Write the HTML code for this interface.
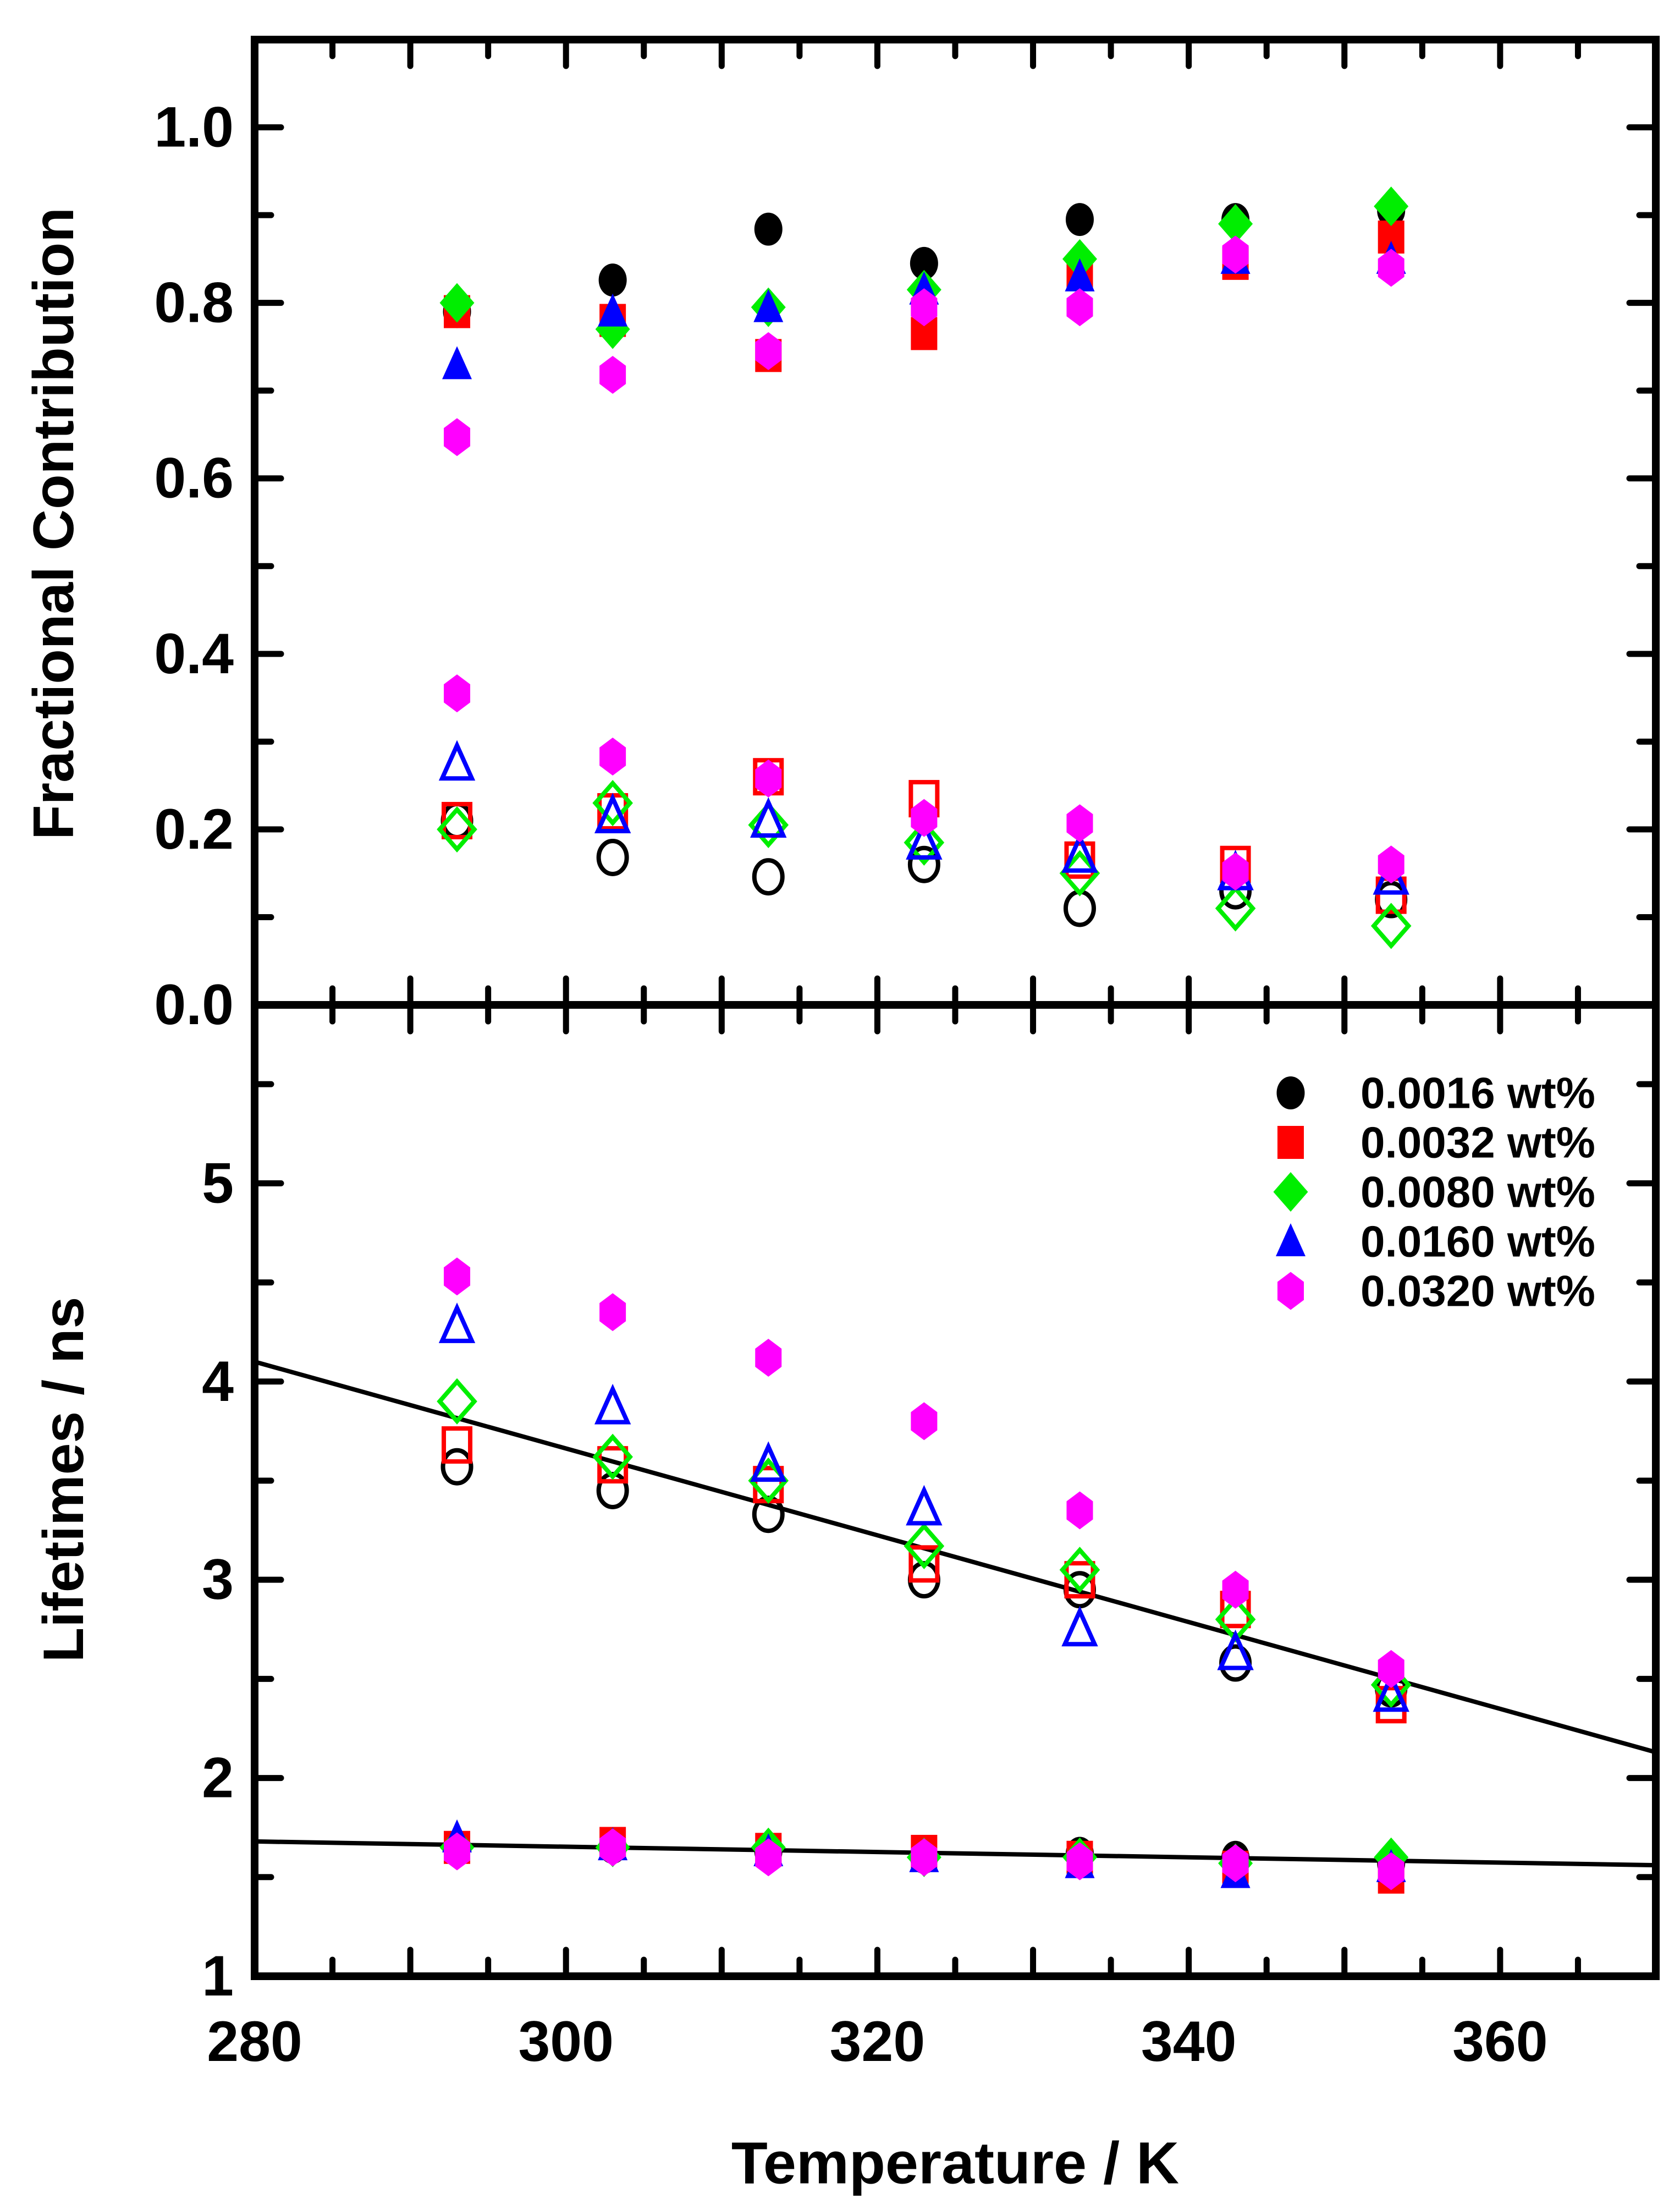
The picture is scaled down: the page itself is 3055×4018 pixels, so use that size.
<!DOCTYPE html>
<html><head><meta charset="utf-8"><style>
html,body{margin:0;padding:0;background:#fff;}
svg{display:block;}
text{font-family:"Liberation Sans",Arial,sans-serif;font-weight:bold;fill:#000;}
</style></head><body>
<svg id="chart" width="3055" height="4018" viewBox="0 0 3055 4018" xmlns="http://www.w3.org/2000/svg">
<rect x="0" y="0" width="3055" height="4018" fill="#fff"/>
<g id="marks"></g>
<g id="axes"></g>
</svg>
<script>
const temps = [293,303,313,323,333,343,353];
const seriesNames = ['0.0016 wt%','0.0032 wt%','0.0080 wt%','0.0160 wt%','0.0320 wt%'];
// Top panel: fractional contributions
const fracLong_0016 = [0.79,0.826,0.884,0.845,0.895,0.895,0.905];
const fracLong_0032 = [0.79,0.78,0.74,0.765,0.835,0.845,0.875];
const fracLong_0080 = [0.80,0.77,0.795,0.815,0.85,0.89,0.91];
const fracLong_0160 = [0.73,0.79,0.795,0.815,0.83,0.85,0.85];
const fracLong_0320 = [0.647,0.718,0.745,0.795,0.795,0.855,0.84];
const fracShort_0016 = [0.21,0.168,0.146,0.16,0.11,0.13,0.12];
const fracShort_0032 = [0.21,0.22,0.26,0.235,0.165,0.16,0.125];
const fracShort_0080 = [0.20,0.23,0.205,0.185,0.15,0.11,0.09];
const fracShort_0160 = [0.275,0.215,0.21,0.185,0.17,0.15,0.145];
const fracShort_0320 = [0.355,0.283,0.258,0.213,0.207,0.152,0.16];
// Bottom panel: lifetimes (ns)
const tauLong_0016 = [3.57,3.45,3.33,3.0,2.95,2.58,2.45];
const tauLong_0032 = [3.68,3.58,3.48,3.08,3.0,2.85,2.37];
const tauLong_0080 = [3.9,3.62,3.5,3.17,3.05,2.8,2.47];
const tauLong_0160 = [4.28,3.87,3.58,3.36,2.75,2.63,2.42];
const tauLong_0320 = [4.53,4.35,4.12,3.8,3.35,2.95,2.55];
const tauShort_0016 = [1.65,1.65,1.63,1.6,1.62,1.6,1.57];
const tauShort_0032 = [1.65,1.67,1.64,1.63,1.6,1.55,1.5];
const tauShort_0080 = [1.65,1.65,1.65,1.6,1.6,1.57,1.6];
const tauShort_0160 = [1.7,1.66,1.63,1.6,1.57,1.52,1.55];
const tauShort_0320 = [1.63,1.65,1.6,1.6,1.58,1.57,1.53];
const fitLongT = [280,370];
const fitLongV = [4.1,2.13];
const fitShortT = [280,370];
const fitShortV = [1.68,1.56];
const xTickLabels = [280,300,320,340,360];
const topTickLabels = ['0.0','0.2','0.4','0.6','0.8','1.0'];
const botTickLabels = ['1','2','3','4','5'];

const NS='http://www.w3.org/2000/svg';
const X0=463, X1=3011, Ytop=72, Ymid=1827, Ybot=3593;
const xS = t => X0 + (t-280)*(X1-X0)/90;
const yTop = v => Ymid - v*(Ymid-Ytop)/1.1;
const yBot = v => Ybot - (v-1)*(Ybot-Ymid)/4.9;
const colors=['#000000','#ff0000','#00ee00','#0000ff','#ff00ff'];
const shapes=['circle','square','diamond','triangle','hexagon'];
const marks=document.getElementById('marks');
const axes=document.getElementById('axes');
function mk(tag,attrs,parent){const e=document.createElementNS(NS,tag);for(const k in attrs)e.setAttribute(k,attrs[k]);parent.appendChild(e);return e;}
function marker(shape,cx,cy,color,filled,parent,name){
  const r=30; let e;
  const st = filled?{fill:color,stroke:'none'}:{fill:'none',stroke:color,'stroke-width':8};
  if(shape==='circle'){ e=mk('ellipse',Object.assign({cx:cx,cy:cy,rx:r*0.85,ry:r},st),parent); }
  else if(shape==='square'){ e=mk('rect',Object.assign({x:cx-r*0.8,y:cy-r,width:r*1.6,height:r*2},st),parent); }
  else { let pts;
    if(shape==='diamond') pts=[[0,-r*1.2],[r*1.05,0],[0,r*1.2],[-r*1.05,0]];
    else if(shape==='triangle') pts=[[0,-r*1.1],[r*0.9,r*0.9],[-r*0.9,r*0.9]];
    else pts=[[0,-r*1.15],[r*0.8,-r*0.55],[r*0.8,r*0.55],[0,r*1.15],[-r*0.8,r*0.55],[-r*0.8,-r*0.55]];
    e=mk('polygon',Object.assign({points:pts.map(p=>(cx+p[0])+','+(cy+p[1])).join(' ')},st),parent); }
  
  
  return e;
}
const l1=mk('line',{x1:xS(fitLongT[0]),y1:yBot(fitLongV[0]),x2:xS(fitLongT[1]),y2:yBot(fitLongV[1]),stroke:'#000','stroke-width':8},marks);


const l2=mk('line',{x1:xS(fitShortT[0]),y1:yBot(fitShortV[0]),x2:xS(fitShortT[1]),y2:yBot(fitShortV[1]),stroke:'#000','stroke-width':8},marks);



const fracLong=[fracLong_0016,fracLong_0032,fracLong_0080,fracLong_0160,fracLong_0320];
const fracShort=[fracShort_0016,fracShort_0032,fracShort_0080,fracShort_0160,fracShort_0320];
const tauLong=[tauLong_0016,tauLong_0032,tauLong_0080,tauLong_0160,tauLong_0320];
const tauShort=[tauShort_0016,tauShort_0032,tauShort_0080,tauShort_0160,tauShort_0320];
for(let s=0;s<5;s++){
  temps.forEach((t,i)=>{
    marker(shapes[s],xS(t),yTop(fracLong[s][i]),colors[s],true,marks,'frac-long-point');
    marker(shapes[s],xS(t),yTop(fracShort[s][i]),colors[s],s===4,marks,'frac-short-point');
    marker(shapes[s],xS(t),yBot(tauLong[s][i]),colors[s],s===4,marks,'tau-long-point');
    marker(shapes[s],xS(t),yBot(tauShort[s][i]),colors[s],true,marks,'tau-short-point');
  });
}
const f1=mk('rect',{x:X0,y:Ytop,width:X1-X0,height:Ymid-Ytop,fill:'none',stroke:'#000','stroke-width':14},axes);


const f2=mk('rect',{x:X0,y:Ymid,width:X1-X0,height:Ybot-Ymid,fill:'none',stroke:'#000','stroke-width':14},axes);


function tick(x1,y1,x2,y2){const e=mk('line',{x1:x1,y1:y1,x2:x2,y2:y2,stroke:'#000','stroke-width':11,'stroke-linecap':'round'},axes);
  
  }
for(let t=285;t<370;t+=5){const major=t%10===0;const L=major?48:30;const x=xS(t);
  [[Ytop,1],[Ymid,-1],[Ymid,1],[Ybot,-1]].forEach(([y,d])=>tick(x,y,x,y+d*L));}
for(let k=1;k<11;k++){const v=k*0.1;const L=k%2===0?48:30;const y=yTop(v);tick(X0,y,X0+L,y);tick(X1,y,X1-L,y);}
for(let k=1;k<10;k++){const v=1+k*0.5;const L=k%2===0?48:30;const y=yBot(v);tick(X0,y,X0+L,y);tick(X1,y,X1-L,y);}
function txt(s,x,y,size,anchor,name,rot){const e=mk('text',{x:x,y:y,'font-size':size,'text-anchor':anchor,'dominant-baseline':'central'},axes);
  if(rot)e.setAttribute('transform','rotate(-90 '+x+' '+y+')');e.textContent=s;
  
  return e;}
xTickLabels.forEach(t=>txt(String(t),xS(t),3712,104,'middle','x-tick-label'));
topTickLabels.forEach(s=>txt(s,425,yTop(parseFloat(s)),104,'end','top-y-tick-label'));
botTickLabels.forEach(s=>txt(s,425,yBot(parseFloat(s)),104,'end','bottom-y-tick-label'));
txt('Temperature / K',1737,3932,108,'middle','x-axis-title');
txt('Fractional Contribution',98,952,104,'middle','top-y-axis-title',true);
txt('Lifetimes / ns',116,2690,104,'middle','bottom-y-axis-title',true);
const legY=[1987,2077,2167,2257,2347];
for(let s=0;s<5;s++){
  marker(shapes[s],2347,legY[s],colors[s],true,axes,'legend-marker');
  txt(seriesNames[s],2474,legY[s],80,'start','legend-label');
}
</script>
</body></html>
